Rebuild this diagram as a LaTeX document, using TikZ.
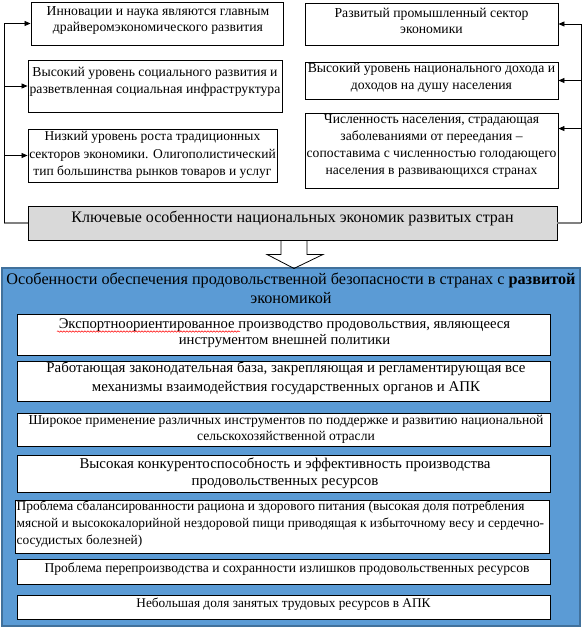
\documentclass[tikz,border=0pt]{standalone}
\usepackage{fontspec}
\setmainfont{Liberation Serif}
\usetikzlibrary{arrows.meta,calc,decorations.pathmorphing}
\newcommand\fsz[2]{\fontsize{#1}{#2}\selectfont}
\definecolor{keygray}{RGB}{217,217,217}
\definecolor{blfill}{RGB}{91,155,213}
\definecolor{bldraw}{RGB}{65,113,156}
\definecolor{lngray}{RGB}{128,128,128}
\tikzset{
  box/.style={draw, line width=0.9pt, fill=white, inner sep=0pt},
  txt/.style={align=center, inner sep=0pt},
  conn/.style={line width=0.8pt},
  grayconn/.style={line width=1.6pt, draw=lngray},
  arr/.style={conn, -{Triangle[length=6pt,width=5pt]}},
  topfont/.style={font=\fsz{13.7}{16.5}},
}
\begin{document}
\begin{tikzpicture}[x=1pt,y=-1pt]
\useasboundingbox (0,0) rectangle (585,628);
\fill[white] (0,0) rectangle (585,628);

% top-left boxes
\node[box, minimum width=252pt, minimum height=43pt] (l1) at (157,23.5) {};
\node[txt, font=\fsz{13.7}{15.5}] (l1t) at (158,20.5) {Инновации и наука являются главным\\драйверомэкономического развития};
\node[box, minimum width=254pt, minimum height=52pt] (l2) at (155,86) {};
\node[txt, font=\fsz{13.7}{17}] (l2t) at (155,81.5) {Высокий уровень социального развития и\\разветвленная социальная инфраструктура};
\node[box, minimum width=249pt, minimum height=53pt] (l3) at (152.5,155.5) {};
\node[txt, font=\fsz{13.5}{17.5}] (l3t) at (152.5,155) {Низкий уровень роста традиционных\\секторов экономики. Олигополистический\\тип большинства рынков товаров и услуг};

% top-right boxes
\node[box, minimum width=253pt, minimum height=42pt] (r1) at (431.5,24) {};
\node[txt, topfont] (r1t) at (431.5,21) {Развитый промышленный сектор\\экономики};
\node[box, minimum width=253pt, minimum height=37pt] (r2) at (431.5,80.5) {};
\node[txt, topfont] (r2t) at (431.5,78) {Высокий уровень национального дохода и\\доходов на душу населения};
\node[box, minimum width=253pt, minimum height=75pt] (r3) at (431.5,150.5) {};
\node[txt, font=\fsz{13.6}{17}] (r3t) at (431.5,145.5) {Численность населения, страдающая\\заболеваниями от переедания –\\сопоставима с численностью голодающего\\населения в развивающихся странах};

% key box
\node[box, fill=keygray, minimum width=529pt, minimum height=34pt] (key) at (292.5,223) {};
\node[txt, font=\fsz{16}{19}] (keyt) at (292.5,218) {Ключевые особенности национальных экономик развитых стран};

% connectors left
\coordinate (lc) at (4,223);
\draw[grayconn] (key.west) -- (lc);
\draw[conn] (lc) -- (lc |- l1.west);
\draw[arr] (lc |- l1.west) -- (l1.west);
\draw[arr] (lc |- l2.west) -- (l2.west);
\draw[arr] (lc |- l3.west) -- (l3.west);

% connectors right
\coordinate (rc) at (581,223);
\coordinate (r3a) at ($(r3.north east)+(0,16)$);
\draw[grayconn] (key.east) -- (rc);
\draw[conn] (rc) -- (rc |- r1.east);
\draw[arr] (rc |- r1.east) -- (r1.east);
\draw[arr] (rc |- r2.east) -- (r2.east);
\draw[arr] (rc |- r3a) -- (r3a);

% blue box
\node[draw=bldraw, fill=blfill, line width=1.2pt, inner sep=0pt, minimum width=578pt, minimum height=358pt] (blue) at (291,447) {};
\node[txt, font=\fsz{16.2}{19}] (bluet) at (291,288.5) {Особенности обеспечения продовольственной безопасности в странах с \textbf{развитой}\\экономикой};

% hollow arrow
\coordinate (ah) at ($(key.south)+(1.5,0)$);
\draw[conn] (ah) ++(-13,0) -- ++(0,14) -- ++(-14,0) -- ++(27,14) -- ++(29,-14) -- ++(-16,0) -- ++(0,-14);

% inner boxes
\node[box, minimum width=533pt, minimum height=41pt] (b1) at (283.5,334.5) {};
\node[txt, font=\fsz{14.7}{16.5}] (b1t) at (284.5,333) {Экспортноориентированное производство продовольствия, являющееся\\инструментом внешней политики};
\draw[red, line width=0.5pt, decorate, decoration={snake, segment length=3pt, amplitude=0.7pt}] (57,331.5) -- (240,331.5);

\node[box, minimum width=533pt, minimum height=40pt] (b2) at (283.5,381) {};
\node[txt, font=\fsz{14.9}{19}] (b2t) at (286,378.5) {Работающая законодательная база, закрепляющая и регламентирующая все\\механизмы взаимодействия государственных органов и АПК};

\node[box, minimum width=533pt, minimum height=33pt] (b3) at (283.5,429.5) {};
\node[txt, font=\fsz{13.6}{16}] (b3t) at (286,429) {Широкое применение различных инструментов по поддержке и развитию национальной\\сельскохозяйственной отрасли};

\node[box, minimum width=533pt, minimum height=37pt] (b4) at (283.5,473.5) {};
\node[txt, font=\fsz{14.9}{17.5}] (b4t) at (285,473.5) {Высокая конкурентоспособность и эффективность производства\\продовольственных ресурсов};

\node[box, minimum width=534pt, minimum height=53pt] (b5) at (282,526.5) {};
\node[txt, align=left, anchor=west, font=\fsz{13.4}{17}] (b5t) at (16.5,524) {Проблема сбалансированности рациона и здорового питания (высокая доля потребления\\мясной и высококалорийной нездоровой пищи приводящая к избыточному весу и сердечно-\\сосудистых болезней)};

\node[box, minimum width=533pt, minimum height=25pt] (b6) at (283.5,571.5) {};
\node[txt, font=\fsz{13.6}{16}] (b6t) at (287,569.5) {Проблема перепроизводства и сохранности излишков продовольственных ресурсов};

\node[box, minimum width=533pt, minimum height=24pt] (b7) at (283.5,607) {};
\node[txt, font=\fsz{13.3}{16}] (b7t) at (283.5,604.5) {Небольшая доля занятых трудовых ресурсов в АПК};
\end{tikzpicture}
\end{document}
